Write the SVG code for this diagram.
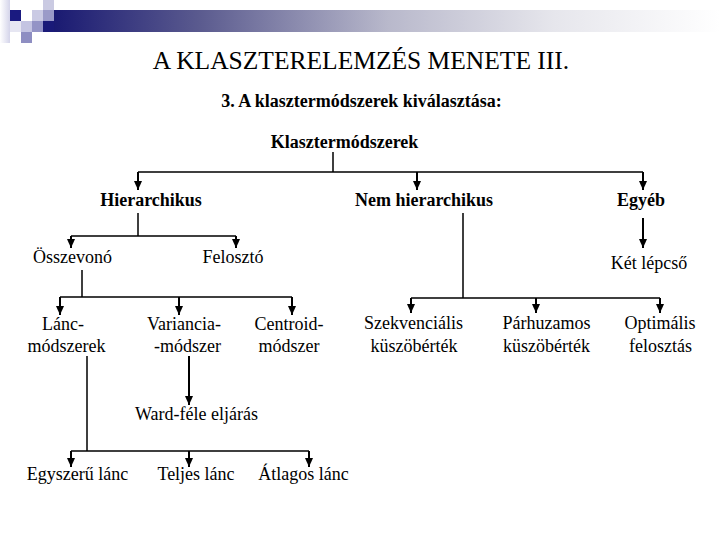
<svg xmlns="http://www.w3.org/2000/svg" width="720" height="540" viewBox="0 0 720 540" font-family="'Liberation Serif', 'DejaVu Serif', serif">
<style>
text{font-family:'Liberation Serif','DejaVu Serif',serif;fill:#000;text-anchor:middle}
.t{font-size:25.5px}
.b{font-size:18px;font-weight:bold}
.r{font-size:18px}
.ln{stroke:#000;stroke-width:1.5;fill:none}
.ar{stroke:#000;stroke-width:2;fill:none;marker-end:url(#ah)}
</style>
<defs>
<marker id="ah" markerUnits="userSpaceOnUse" markerWidth="9" markerHeight="8" refX="9" refY="4" orient="auto">
<path d="M0,0 L9,4 L0,8 z" fill="#000"/>
</marker>
<linearGradient id="band" x1="54" y1="0" x2="720" y2="0" gradientUnits="userSpaceOnUse">
<stop offset="0" stop-color="#1a1a72"/>
<stop offset="0.22" stop-color="#5b5b8f"/>
<stop offset="0.5" stop-color="#b8b8cb"/>
<stop offset="0.75" stop-color="#e6e6ec"/>
<stop offset="1" stop-color="#ffffff"/>
</linearGradient>
<linearGradient id="lft" x1="0" y1="0" x2="1" y2="0">
<stop offset="0" stop-color="#ffffff"/>
<stop offset="1" stop-color="#d4d4ea"/>
</linearGradient>
</defs>
<g id="decoration">
<rect x="54" y="10" width="666" height="22" fill="url(#band)"/>
<rect x="0" y="0" width="10" height="43" fill="url(#lft)"/>
<rect x="43" y="0" width="11" height="10" fill="#cacae2"/>
<rect x="10" y="10" width="11" height="11" fill="#1a1a80"/>
<rect x="32" y="10" width="11" height="11" fill="#cacae4"/>
<rect x="43" y="10" width="11" height="11" fill="#9a9ac8"/>
<rect x="10" y="21" width="11" height="11" fill="#e6e6f2"/>
<rect x="21" y="21" width="11" height="11" fill="#c4c4e2"/>
<rect x="32" y="21" width="11" height="11" fill="#9494c6"/>
<rect x="43" y="21" width="11" height="11" fill="#1a1a78"/>
<rect x="21" y="32" width="11" height="11" fill="#8e8ec2"/>
</g>
<g id="title">
<text class="t" x="361" y="69">A KLASZTERELEMZÉS MENETE III.</text>
<text class="b" x="361.5" y="107">3. A klasztermódszerek kiválasztása:</text>
</g>
<g id="connectors">
<path class="ln" d="M333,152 V172 M138,172 H643"/>
<path class="ar" d="M138,172 V190"/>
<path class="ar" d="M417,172 V190"/>
<path class="ar" d="M643,172 V190"/>
<path class="ln" d="M138,213 V236 M71,236 H236"/>
<path class="ar" d="M71,236 V248"/>
<path class="ar" d="M236,236 V248"/>
<path class="ar" d="M643,218 V248"/>
<path class="ln" d="M82,270 V297 M60,297 H292"/>
<path class="ar" d="M60,297 V315"/>
<path class="ar" d="M179,297 V315"/>
<path class="ar" d="M292,297 V315"/>
<path class="ln" d="M463,213 V298 M411,298 H660"/>
<path class="ar" d="M411,298 V313"/>
<path class="ar" d="M536,298 V313"/>
<path class="ar" d="M660,298 V313"/>
<path class="ar" d="M189,356 V405"/>
<path class="ln" d="M87,356 V451 M71,451 H309"/>
<path class="ar" d="M71,451 V467"/>
<path class="ar" d="M189,451 V467"/>
<path class="ar" d="M309,451 V467"/>
</g>
<g id="n-klaszter"><text class="b" x="344.5" y="148">Klasztermódszerek</text></g>
<g id="n-hier"><text class="b" x="151" y="206">Hierarchikus</text></g>
<g id="n-nemhier"><text class="b" x="424" y="206">Nem hierarchikus</text></g>
<g id="n-egyeb"><text class="b" x="641" y="206">Egyéb</text></g>
<g id="n-osszevono"><text class="r" x="72.5" y="263">Összevonó</text></g>
<g id="n-feloszto"><text class="r" x="233" y="263">Felosztó</text></g>
<g id="n-ketlepcso"><text class="r" x="649" y="269">Két lépcső</text></g>
<g id="n-lanc"><text class="r" x="63" y="330">Lánc-</text><text class="r" x="66.5" y="352">módszerek</text></g>
<g id="n-variancia"><text class="r" x="184" y="330">Variancia-</text><text class="r" x="187.5" y="352">-módszer</text></g>
<g id="n-centroid"><text class="r" x="289" y="330">Centroid-</text><text class="r" x="289" y="352">módszer</text></g>
<g id="n-szekv"><text class="r" x="413.5" y="329">Szekvenciális</text><text class="r" x="414" y="352">küszöbérték</text></g>
<g id="n-parh"><text class="r" x="546.5" y="329">Párhuzamos</text><text class="r" x="546.5" y="352">küszöbérték</text></g>
<g id="n-optim"><text class="r" x="660" y="329">Optimális</text><text class="r" x="660.5" y="352">felosztás</text></g>
<g id="n-ward"><text class="r" x="196.5" y="420">Ward-féle eljárás</text></g>
<g id="n-egyszeru"><text class="r" x="77.5" y="480">Egyszerű lánc</text></g>
<g id="n-teljes"><text class="r" x="196" y="480">Teljes lánc</text></g>
<g id="n-atlagos"><text class="r" x="303.5" y="480">Átlagos lánc</text></g>
</svg>
